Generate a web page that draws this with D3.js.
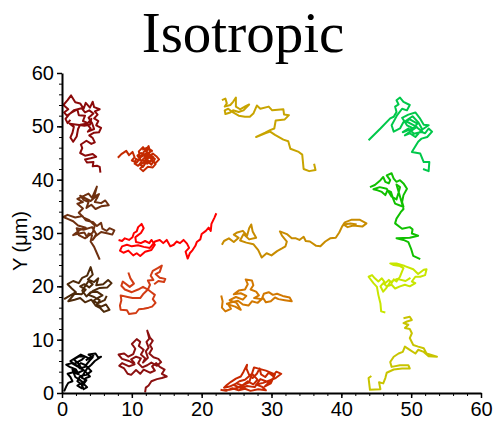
<!DOCTYPE html>
<html>
<head>
<meta charset="utf-8">
<script src="https://cdn.jsdelivr.net/npm/d3@7"></script>
<style>
  body { margin: 0; background: #fff; }
  #chart { width: 494px; height: 421px; }
</style>
</head>
<body>
<div id="chart"></div>
<script>
// 轴刻度
const xTicks = [0, 10, 20, 30, 40, 50, 60];
const yTicks = [0, 10, 20, 30, 40, 50, 60];
const minorTicks = d3.range(0, 61, 2);

// 每条轨迹 (x, y) 单位 µm
const track01 = [[5.5,41.3],[5.4,42.4],[5.0,42.6],[4.4,42.5],[4.5,43.3],[3.6,43.2],[3.3,43.8],[4.1,44.0],[4.9,44.3],[4.4,44.8],[3.3,44.5],[2.6,45.0],[2.9,45.9],[2.7,46.6],[3.5,47.3],[4.2,46.7],[4.7,47.0],[4.4,47.8],[3.9,48.3],[4.6,48.8],[5.3,48.9],[5.6,49.7],[4.9,50.2],[5.2,51.0],[4.6,51.5],[5.1,52.2],[4.7,52.8],[5.4,53.2],[4.6,53.6],[4.4,54.6],[4.0,53.5],[3.4,54.4],[3.1,53.3],[2.6,54.3],[1.9,54.5],[1.3,55.8],[0.8,54.9],[0.2,54.0],[0.9,53.2],[0.3,52.6],[0.7,52.0],[1.4,52.6],[2.2,53.2],[2.4,52.1],[3.3,52.0],[3.0,51.0],[3.7,50.6],[4.2,51.4],[4.0,50.3],[3.2,50.1],[2.2,50.3],[1.1,50.5],[1.7,49.9],[1.5,48.8],[1.2,47.9],[1.6,47.1],[2.1,48.1],[2.3,49.5],[2.6,50.3],[3.5,50.5],[4.1,49.6],[3.7,49.0],[4.6,49.5],[4.3,50.6],[3.8,51.6],[4.5,52.4],[3.9,53.0],[3.3,52.6],[2.8,53.4],[1.7,53.0],[1.0,52.2],[0.5,51.4],[0.8,50.6],[1.2,51.2]];
const track02 = [[8.0,44.1],[8.5,44.8],[9.2,45.4],[9.6,44.6],[10.1,45.2],[10.4,44.2],[10.0,43.6],[10.7,43.2],[11.2,44.1],[11.0,45.3],[11.6,46.1],[12.0,45.4],[12.4,46.3],[12.6,45.2],[12.1,44.5],[11.5,43.7],[12.2,43.0],[12.9,43.6],[13.4,43.1],[13.9,43.8],[13.5,44.4],[13.0,44.9],[12.4,44.2],[11.8,42.8],[11.2,42.1],[11.6,41.6],[12.3,42.4],[13.0,42.3],[13.4,42.9],[12.7,44.0],[11.9,44.6],[11.3,45.0],[10.8,44.5],[11.4,43.4],[10.9,42.6],[10.4,43.0],[10.6,43.9],[11.0,43.6],[11.7,45.2],[12.3,45.8],[11.8,44.0],[12.6,43.4],[13.1,44.2],[12.5,44.8],[11.7,43.2],[11.2,42.8],[11.6,42.4],[12.2,43.6],[12.8,42.8],[13.3,43.9],[12.0,44.9],[11.4,44.3],[12.9,45.4],[12.2,46.0],[11.5,45.6]];
const track03 = [[5.4,25.0],[5.0,26.2],[4.6,27.4],[4.1,28.4],[4.3,29.6],[3.8,29.9],[3.6,29.2],[3.2,30.1],[2.4,29.9],[1.6,29.6],[2.6,30.6],[3.4,31.0],[2.3,31.4],[1.6,32.2],[0.9,32.6],[0.2,33.0],[0.8,33.4],[1.9,32.9],[2.9,33.2],[3.4,32.4],[4.5,32.0],[5.0,31.3],[5.6,31.9],[5.8,30.8],[6.4,30.4],[6.8,30.9],[7.5,30.5],[7.2,29.7],[6.6,29.9],[5.6,30.2],[4.8,29.4],[4.4,28.7],[4.9,29.8],[4.3,31.1],[3.1,30.6],[2.1,30.9],[2.4,29.6],[3.3,29.0],[4.4,30.1],[4.7,31.4],[3.9,32.4],[3.1,32.9],[2.4,33.8],[3.0,34.6],[2.2,35.5],[3.0,35.8],[2.2,36.4],[3.2,37.0],[3.8,37.4],[4.3,36.6],[5.0,38.7],[4.6,36.8],[5.3,37.3],[4.7,35.8],[5.6,35.6],[6.2,36.1],[6.7,35.2],[5.6,35.0],[4.8,34.5],[4.2,35.3],[3.5,34.7],[3.8,35.8],[3.1,36.2],[2.6,37.0],[4.1,36.0],[4.8,36.8],[5.2,36.6]];
const track04 = [[8.1,28.7],[8.6,28.5],[9.0,29.0],[9.6,28.7],[10.1,29.2],[10.3,30.0],[10.7,30.3],[10.9,31.1],[11.4,31.7],[11.7,30.9],[11.3,30.0],[10.8,29.5],[10.5,29.2],[10.6,28.3],[11.3,28.1],[11.9,28.5],[12.5,28.1],[12.8,28.7],[13.3,27.8],[12.8,26.8],[11.9,26.5],[11.2,25.7],[10.7,26.2],[10.2,25.8],[9.5,26.7],[8.8,26.3],[8.3,26.7],[8.6,27.5],[9.3,27.8],[10.0,27.5],[10.9,27.7],[11.7,27.4],[12.6,27.2],[13.3,28.4],[14.0,28.7],[14.5,28.1],[15.0,28.7],[15.5,27.5],[16.0,27.8],[16.4,28.4],[16.9,28.1],[17.4,28.7],[17.9,28.0],[18.2,27.2],[17.7,26.5],[18.0,25.2],[18.3,26.2],[18.7,26.8],[19.1,27.6],[19.3,28.3],[19.8,28.8],[20.0,29.8],[20.6,30.4],[21.0,31.0],[21.3,30.4],[21.4,31.7],[21.8,32.8],[22.1,33.7]];
const track05 = [[0.3,17.6],[1.2,18.3],[2.0,18.9],[1.4,19.6],[0.8,20.4],[1.6,21.0],[2.4,20.6],[2.9,21.6],[3.6,22.0],[4.1,23.6],[4.4,22.2],[3.7,21.3],[4.6,20.8],[5.2,21.5],[4.9,20.2],[5.9,20.4],[6.6,21.2],[7.1,20.6],[6.5,19.8],[5.4,19.7],[4.5,19.2],[3.8,18.4],[4.6,18.0],[5.4,17.4],[5.0,16.6],[5.6,16.2],[6.3,16.6],[6.8,15.6],[6.0,15.2],[5.5,15.9],[4.8,16.4],[4.2,17.5],[3.3,17.0],[2.6,17.8],[1.8,17.5],[0.9,17.2],[1.8,18.6],[2.8,18.5],[3.4,19.4],[2.6,20.0],[3.2,20.4],[3.9,19.8],[4.4,20.4],[3.8,21.0],[2.9,19.2],[3.5,18.1],[4.1,18.9],[5.0,19.0],[5.8,18.3],[5.2,17.9],[4.5,17.3],[5.1,16.8],[6.1,17.4],[6.4,18.2]];
const track06 = [[9.5,22.6],[9.8,21.5],[10.3,20.5],[9.7,19.9],[8.7,20.9],[8.5,20.1],[9.0,19.4],[10.0,18.9],[10.9,19.4],[11.6,19.9],[12.3,19.4],[12.8,18.9],[13.3,18.4],[13.0,17.6],[13.4,16.9],[12.9,16.2],[12.4,16.0],[11.7,15.8],[11.0,15.7],[10.6,15.0],[9.6,14.8],[9.3,15.5],[8.4,15.6],[8.3,16.4],[8.5,17.4],[8.4,18.3],[9.4,18.0],[10.1,17.8],[11.2,17.8],[11.6,18.5],[12.3,19.4],[12.6,20.3],[12.3,21.1],[13.1,21.2],[12.7,22.0],[13.0,22.9],[13.7,23.4],[14.3,23.9],[14.0,22.7],[13.4,22.3],[14.0,21.6],[14.8,21.4],[14.6,20.8],[13.8,21.0],[13.2,20.4]];
const track07 = [[0.3,0.3],[0.6,1.2],[0.9,1.9],[1.5,2.2],[1.2,3.0],[0.8,3.6],[1.6,3.9],[2.4,3.5],[2.0,4.4],[1.1,4.9],[0.6,5.3],[1.4,5.6],[2.2,5.0],[2.7,5.6],[3.4,5.2],[3.9,6.0],[4.4,6.7],[3.8,7.2],[4.8,7.4],[5.2,6.6],[5.6,6.8],[4.7,6.0],[4.2,5.3],[3.6,4.6],[3.2,3.8],[2.8,2.9],[3.5,2.4],[3.1,1.7],[3.6,1.1],[3.1,0.7],[2.8,1.6],[2.2,2.2],[2.6,3.2],[3.5,3.4],[4.2,4.1],[3.5,5.0],[2.6,4.6],[1.8,5.5],[2.8,6.2],[3.3,6.8],[2.5,6.9],[1.7,6.3],[2.3,5.6],[3.0,4.2],[2.3,3.8],[1.5,4.4],[1.9,3.0],[2.5,2.5],[3.0,2.0],[2.2,1.4],[2.8,0.9],[3.4,2.8],[4.0,3.1],[3.3,4.1],[2.0,5.2],[1.2,6.0],[2.7,7.2],[3.9,6.5],[4.5,7.0],[3.4,6.1]];
const track08 = [[11.9,0.1],[12.0,1.0],[12.4,1.4],[12.8,2.2],[13.6,2.6],[14.3,2.8],[15.0,3.1],[14.3,3.6],[14.7,4.4],[14.0,4.9],[13.5,5.6],[12.9,5.0],[13.3,4.2],[12.6,3.8],[11.7,4.4],[11.2,3.6],[10.6,4.3],[9.9,3.4],[9.4,3.6],[8.9,4.6],[8.2,5.1],[8.6,5.6],[9.6,5.0],[10.4,5.4],[9.6,6.0],[8.6,6.4],[8.1,7.2],[8.9,7.4],[9.5,6.8],[10.2,7.3],[10.5,8.3],[10.0,9.2],[10.7,10.1],[11.2,9.6],[11.0,8.8],[11.7,8.1],[11.3,7.2],[11.9,6.5],[11.6,5.7],[12.3,6.6],[12.0,7.8],[12.4,8.5],[12.1,9.6],[12.5,10.2],[12.2,11.7],[12.6,10.4],[13.0,9.8],[12.6,9.0],[12.9,8.3],[12.5,7.4],[13.1,6.7],[13.8,6.4],[14.2,5.8],[13.6,5.1],[12.8,5.7],[12.2,5.2],[11.5,4.8],[10.9,5.6],[11.3,6.5],[10.6,6.8],[9.9,6.3],[10.4,5.6]];
const track09 = [[22.7,0.6],[23.5,0.4],[24.4,0.9],[25.3,0.5],[26.2,0.8],[27.0,0.4],[28.1,0.7],[29.2,0.5],[28.6,1.2],[27.8,1.6],[28.8,1.9],[29.8,2.4],[30.6,2.8],[31.4,3.6],[30.7,4.0],[30.2,3.2],[29.6,3.8],[29.1,3.0],[28.5,3.5],[28.3,4.6],[27.9,3.6],[27.3,2.8],[26.8,3.4],[26.4,4.6],[26.5,5.3],[26.0,4.0],[25.6,3.1],[24.9,2.7],[24.2,2.1],[23.6,1.5],[23.2,1.0],[24.0,1.2],[25.0,1.8],[25.8,1.4],[26.6,2.2],[27.4,1.6],[28.0,2.5],[27.2,3.6],[26.2,2.5],[25.4,2.2],[24.6,1.5],[25.6,0.9],[26.5,1.3],[27.6,1.1],[28.4,2.6],[29.4,2.1],[30.1,2.6],[29.0,1.2],[29.9,1.8],[30.5,3.5],[29.2,4.2],[27.5,4.8],[26.8,2.0],[25.2,1.0],[24.0,0.6],[23.0,0.5]];
const track10 = [[22.8,18.3],[23.0,17.2],[22.9,16.0],[23.4,15.3],[24.2,15.8],[23.8,16.6],[24.8,16.2],[25.6,15.6],[25.0,16.9],[24.0,17.4],[24.9,18.0],[25.9,17.5],[26.4,18.2],[25.6,18.7],[24.6,18.5],[25.3,19.2],[26.2,19.4],[26.6,20.4],[26.3,21.3],[27.2,21.1],[27.4,20.2],[27.0,19.4],[27.8,19.0],[28.2,18.3],[27.5,17.8],[28.6,17.6],[28.9,18.6],[29.6,18.9],[30.2,18.4],[30.8,18.6],[31.6,18.2],[32.6,17.9],[32.9,17.2],[31.9,17.4],[31.0,17.6],[30.5,17.9],[29.9,17.2],[29.2,17.0],[28.8,17.8],[28.0,16.9],[27.2,17.2],[26.7,16.4],[25.9,16.6],[25.2,17.3],[24.3,17.0],[23.5,16.7]];
const track11 = [[22.9,27.8],[23.2,28.5],[23.9,29.0],[24.6,28.3],[25.3,29.1],[24.6,29.7],[25.1,30.1],[25.9,30.4],[26.5,29.5],[26.8,30.9],[27.1,31.6],[27.3,30.3],[27.8,29.1],[26.8,28.8],[26.0,29.8],[25.5,28.6],[26.4,28.2],[27.4,27.9],[28.1,26.8],[28.6,25.4],[29.3,26.2],[30.0,25.8],[30.8,26.6],[31.5,27.1],[32.0,27.5],[32.2,28.4],[31.5,29.5],[31.2,30.3],[32.2,29.8],[32.9,29.0],[33.5,29.0],[34.0,28.7],[34.6,29.3],[34.9,28.5],[35.5,28.4],[36.4,27.6],[37.0,27.5],[37.7,28.4],[38.4,29.0],[39.2,29.1],[39.7,30.1],[40.1,31.2],[40.5,32.0],[41.5,32.5],[42.6,32.5],[43.6,31.8],[43.0,31.2],[41.7,31.4],[40.9,31.1],[40.3,31.6],[41.3,31.8],[42.2,31.6]];
const track12 = [[22.9,54.9],[23.4,55.2],[23.6,54.3],[23.3,53.7],[24.1,54.0],[24.5,54.6],[24.9,55.4],[24.9,53.7],[25.5,53.2],[26.3,53.8],[26.8,54.1],[26.0,53.0],[25.3,52.7],[24.5,53.0],[24.1,52.6],[23.4,52.3],[23.3,53.0],[23.8,53.3],[24.5,52.6],[25.3,52.0],[26.2,51.8],[26.9,51.8],[27.4,52.4],[27.9,53.9],[28.4,53.3],[29.6,53.7],[30.1,53.0],[31.7,53.2],[31.8,52.2],[32.5,52.1],[31.9,51.3],[30.6,51.1],[30.4,49.6],[29.8,49.3],[29.1,48.8],[27.8,48.0],[29.1,48.7],[29.8,49.0],[30.5,48.4],[31.7,47.5],[32.4,47.2],[32.7,45.8],[33.9,45.2],[34.4,44.7],[34.6,42.0],[35.4,41.6],[36.3,41.8],[36.1,43.0]];
const track13 = [[43.9,47.4],[45.6,49.6],[47.0,51.5],[47.5,51.8],[47.9,52.7],[47.7,53.7],[48.2,54.1],[47.9,54.9],[48.4,55.4],[48.9,54.6],[49.8,54.0],[49.4,53.0],[48.7,53.3],[48.0,52.1],[47.2,50.2],[47.5,49.0],[48.4,49.6],[48.9,50.8],[49.8,51.3],[50.9,50.5],[50.3,49.6],[49.4,50.2],[48.7,51.6],[49.6,52.2],[50.6,52.6],[51.2,51.6],[51.8,50.3],[52.5,50.2],[51.6,49.4],[51.0,50.8],[50.2,51.9],[49.2,51.0],[50.4,50.2],[51.6,49.0],[50.4,48.6],[49.6,49.6],[48.8,48.9],[50.8,49.9],[49.1,48.3],[49.8,48.7],[50.6,48.0],[51.3,49.0],[52.0,48.7],[52.5,49.6],[53.0,49.0],[52.3,48.0],[51.5,47.7],[51.0,47.1],[50.1,45.2],[51.3,44.9],[51.8,43.3],[52.6,43.3],[52.5,41.6],[51.7,42.0]];
const track14 = [[44.1,38.6],[44.8,39.0],[45.6,39.9],[46.0,40.5],[46.3,39.6],[46.8,39.3],[47.0,39.9],[46.5,40.8],[47.2,41.2],[47.5,40.2],[47.9,39.6],[48.4,39.9],[48.9,39.3],[49.4,38.3],[48.9,37.1],[48.7,35.8],[48.9,34.9],[48.3,35.2],[47.7,35.5],[47.4,36.5],[47.1,37.7],[46.6,38.0],[46.3,37.1],[45.8,37.7],[45.2,38.0],[44.6,38.2],[45.5,38.6],[46.5,38.3],[47.2,36.8],[47.9,36.3],[48.2,37.6],[48.4,38.6],[47.9,39.1],[48.7,35.5],[48.9,34.5],[48.5,33.9],[47.9,32.7],[47.7,31.8],[48.7,30.8],[49.8,31.1],[50.2,30.7],[50.1,29.9],[51.0,29.5],[49.8,29.1],[47.9,29.0],[48.9,28.7],[49.6,28.3],[50.0,27.0],[50.3,25.7],[51.3,25.1]];
const track15 = [[46.3,15.1],[45.7,15.3],[45.6,16.8],[45.3,18.4],[45.1,19.9],[44.6,20.6],[43.9,21.8],[44.4,22.1],[44.8,21.5],[45.3,20.9],[45.8,21.5],[46.3,20.6],[46.8,21.2],[47.2,20.6],[47.5,21.3],[47.9,20.9],[48.4,21.8],[48.7,22.8],[48.9,23.4],[48.4,23.8],[47.5,24.0],[47.0,24.3],[47.9,24.3],[49.1,23.8],[50.3,23.2],[51.0,22.3],[51.8,23.1],[52.2,23.2],[52.0,22.1],[51.3,21.8],[50.6,21.8],[50.1,20.9],[50.6,20.6],[49.8,20.0],[49.1,20.3],[48.4,20.0],[47.7,19.6],[47.2,20.3],[46.5,20.0],[46.0,20.6],[45.6,20.0],[46.0,19.0],[46.4,19.6],[47.0,20.8],[48.0,21.4],[49.2,21.0],[49.9,21.6]];
const track16 = [[48.9,14.0],[49.8,14.3],[50.1,13.7],[49.4,13.4],[48.9,13.1],[49.6,12.8],[49.1,12.2],[49.8,12.0],[50.1,11.2],[49.8,10.3],[50.3,9.0],[51.0,8.7],[51.8,8.4],[52.2,7.4],[53.7,6.8],[52.5,6.9],[51.8,7.7],[51.0,8.1],[50.6,7.4],[49.8,8.1],[49.1,8.7],[48.8,7.7],[48.2,7.4],[47.5,6.8],[47.0,5.8],[47.2,4.9],[48.4,5.2],[49.6,5.2],[49.8,4.6],[48.7,4.6],[47.5,4.4],[46.5,3.8],[46.3,2.8],[46.0,1.8],[45.4,2.0],[45.6,0.7],[44.1,0.6],[43.9,2.8],[44.3,3.2]];

const tracks = [track01, track02, track03, track04, track05, track06, track07, track08,
                track09, track10, track11, track12, track13, track14, track15, track16];
const trackColors = ["#8b0a0a", "#c42a00", "#6e3010", "#ff0000", "#4d2a0a", "#d23c14", "#000000", "#8b1010",
                     "#c82800", "#d27800", "#c88c00", "#c8a400", "#00c84a", "#10c000", "#c8e600", "#c8c400"];

const width = 494, height = 421;
const margin = {top: 73, right: 13, bottom: 28, left: 62};

const svg = d3.select("#chart").append("svg")
  .attr("width", width)
  .attr("height", height);

const x = d3.scaleLinear().domain([0, 60]).range([margin.left, width - margin.right]);
const y = d3.scaleLinear().domain([0, 60]).range([height - margin.bottom, margin.top]);

// 轨迹
const line = d3.line().x(d => x(d[0])).y(d => y(d[1]));
svg.append("g")
  .selectAll("path")
  .data(tracks)
  .enter()
  .append("path")
  .attr("d", line)
  .attr("fill", "none")
  .attr("stroke", (d, i) => trackColors[i])
  .attr("stroke-width", 2)
  .attr("stroke-linejoin", "round");

// 次刻度
svg.append("g")
  .attr("transform", `translate(0,${y(0)})`)
  .call(d3.axisBottom(x).tickValues(minorTicks).tickSize(3).tickSizeOuter(0).tickFormat(""))
  .call(g => g.select(".domain").remove());
svg.append("g")
  .attr("transform", `translate(${x(0)},0)`)
  .call(d3.axisLeft(y).tickValues(minorTicks).tickSize(3).tickSizeOuter(0).tickFormat(""))
  .call(g => g.select(".domain").remove());

// 主坐标轴
const xAxis = svg.append("g")
  .attr("transform", `translate(0,${y(0)})`)
  .call(d3.axisBottom(x).tickValues(xTicks).tickSize(5).tickPadding(4).tickSizeOuter(0));
const yAxis = svg.append("g")
  .attr("transform", `translate(${x(0)},0)`)
  .call(d3.axisLeft(y).tickValues(yTicks).tickSize(5).tickPadding(3).tickSizeOuter(0));

[xAxis, yAxis].forEach(a => {
  a.select(".domain").attr("stroke-width", 2);
  a.selectAll(".tick line").attr("stroke-width", 1.5);
  a.selectAll("text")
    .attr("font-family", "Arial, 'Liberation Sans', sans-serif")
    .attr("font-size", "20px")
    .attr("fill", "#000");
});
svg.selectAll(".tick line").attr("stroke", "#000");

// 标题
svg.append("text")
  .attr("x", 243)
  .attr("y", 52)
  .attr("text-anchor", "middle")
  .attr("font-family", "'Times New Roman', 'Liberation Serif', serif")
  .attr("font-size", "57px")
  .attr("fill", "#000")
  .text("Isotropic");

// y 轴标题
svg.append("text")
  .attr("transform", `translate(27,${(y(0) + y(60)) / 2 + 8}) rotate(-90)`)
  .attr("text-anchor", "middle")
  .attr("font-family", "Arial, 'Liberation Sans', sans-serif")
  .attr("font-size", "20px")
  .attr("fill", "#000")
  .text("Y (μm)");
</script>
</body>
</html>
